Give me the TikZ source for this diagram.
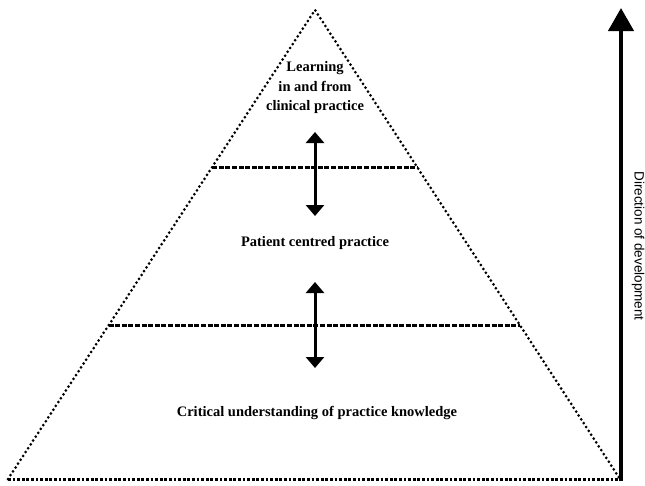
\documentclass[tikz,border=0pt]{standalone}
\usepackage{fontspec}
\setmainfont{Liberation Serif}
\newfontfamily\sidefont{Liberation Sans}
\usetikzlibrary{arrows.meta,calc}
\tikzset{
  side/.style={line width=3pt, line cap=round, dash pattern=on 0pt off 4.6pt},
  floor/.style={line width=3pt, dash pattern=on 2.8pt off 1.8pt},
  level/.style={line width=2.8pt, dash pattern=on 5pt off 1.6pt},
  move/.style={line width=3pt, {Triangle[width=18pt,length=11pt]}-{Triangle[width=18pt,length=11pt]}},
  growth/.style={line width=4.2pt, -{Triangle[width=25pt,length=23pt]}},
  stage/.style={font=\bfseries\fontsize{14.5}{19.5}\selectfont, align=center, inner sep=0pt}
}
\begin{document}
\begin{tikzpicture}[x=1pt,y=-1pt]
  \useasboundingbox (0,0) rectangle (645,485);
  % pyramid
  \coordinate (apex) at (315,10);
  \coordinate (baseL) at (8,479);
  \coordinate (baseR) at (620,479);
  \draw[side] (baseL) -- (apex) -- (baseR);
  \draw[floor] (baseL) -- (baseR);
  % levels
  \coordinate (upL) at ($(apex)!0.335!(baseL)$);
  \coordinate (upR) at ($(apex)!0.335!(baseR)$);
  \coordinate (lowL) at ($(apex)!0.672!(baseL)$);
  \coordinate (lowR) at ($(apex)!0.672!(baseR)$);
  \draw[level] (upL) -- (upR);
  \draw[level] (lowL) -- (lowR);
  % stages
  \node[stage] (learning) at (315,88) {Learning\\in and from\\clinical practice};
  \node[stage] (patient) at (315,243) {Patient centred practice};
  \node[stage] (critical) at (317,413) {Critical understanding of practice knowledge};
  % links between stages
  \coordinate (upA) at (315,132);
  \coordinate (upB) at (315,216);
  \coordinate (lowA) at (315,282);
  \coordinate (lowB) at (315,368);
  \draw[move] (upA) -- (upB);
  \draw[move] (lowA) -- (lowB);
  % direction
  \coordinate (dirS) at (621,481);
  \coordinate (dirE) at (621,8);
  \draw[growth] (dirS) -- (dirE);
  \node[rotate=-90, font=\sidefont\fontsize{13.5}{15}\selectfont, inner sep=0pt] (direction) at (638,246) {Direction of development};
\end{tikzpicture}
\end{document}
